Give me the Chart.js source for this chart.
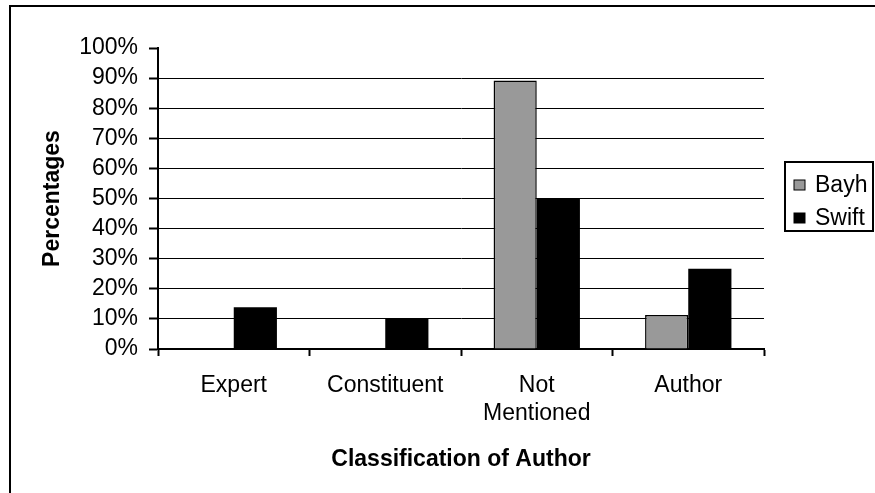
<!DOCTYPE html>
<html>
<head>
<meta charset="utf-8">
<title>Classification of Author</title>
<script src="https://cdn.jsdelivr.net/npm/chart.js@4.4.1/dist/chart.umd.min.js"></script>
<style>
  html, body { margin: 0; padding: 0; background: #fff; }
  canvas { display: block; }
</style>
</head>
<body>
<canvas id="myChart" width="875" height="493"></canvas>
<script>
// Categories and percentages for each senator
const categories = ['Expert', 'Constituent', ['Not', 'Mentioned'], 'Author'];
const bayh = [0, 0, 89.2, 11.3];
const swift = [13.9, 10, 50, 26.7];
const yTicks = [0, 10, 20, 30, 40, 50, 60, 70, 80, 90, 100];

const FONT = "'Liberation Sans', Arial, sans-serif";
const SIZE = 23;

// Frame around the whole chart
const framePlugin = {
    id: 'frame',
    beforeDraw(chart) {
        const c = chart.ctx;
        c.save();
        c.fillStyle = '#fff';
        c.fillRect(0, 0, chart.width, chart.height);
        c.strokeStyle = '#000';
        c.lineWidth = 2;
        c.strokeRect(10, 6, chart.width + 20, chart.height + 20);
        c.restore();
    }
};

// Boxed legend to the right of the plot
const boxLegend = {
    id: 'boxLegend',
    afterDraw(chart) {
        const c = chart.ctx;
        const x = 785, y = 162, w = 88, h = 69;
        c.save();
        c.strokeStyle = '#000';
        c.lineWidth = 2;
        c.strokeRect(x, y, w, h);
        c.font = SIZE + 'px ' + FONT;
        c.textBaseline = 'middle';
        chart.data.datasets.forEach((ds, i) => {
            const cy = 185 + i * 33;
            c.fillStyle = ds.backgroundColor;
            c.fillRect(794, cy - 5, 11, 10);
            c.lineWidth = 1;
            c.strokeRect(794, cy - 5, 11, 10);
            c.fillStyle = '#000';
            c.fillText(ds.label, 815, cy + 1);
        });
        c.restore();
    }
};

const ctx = document.getElementById('myChart').getContext('2d');

const chart = new Chart(ctx, {
    type: 'bar',
    data: {
        labels: categories,
        datasets: [
            {
                label: 'Bayh',
                data: bayh,
                backgroundColor: '#999999',
                borderColor: '#000',
                borderWidth: 1.5,
                borderSkipped: 'bottom'
            },
            {
                label: 'Swift',
                data: swift,
                backgroundColor: '#000000',
                borderColor: '#000',
                borderWidth: 0
            }
        ]
    },
    options: {
        responsive: false,
        animation: false,
        devicePixelRatio: 1,
        layout: { padding: { top: 48, right: 111, bottom: 0, left: 0 } },
        datasets: {
            bar: { categoryPercentage: 0.57, barPercentage: 1 }
        },
        plugins: {
            legend: { display: false },
            tooltip: { enabled: false }
        },
        scales: {
            x: {
                afterFit(scale) { scale.height = 144; },
                grid: {
                    drawOnChartArea: false,
                    drawTicks: true,
                    tickLength: 7,
                    tickColor: '#000',
                    tickWidth: 2
                },
                border: { color: '#000', width: 2 },
                ticks: {
                    color: '#000',
                    padding: 16,
                    maxRotation: 0,
                    autoSkip: false,
                    font: { family: FONT, size: SIZE }
                },
                title: {
                    display: true,
                    text: 'Classification of Author',
                    color: '#000',
                    padding: { top: 0, bottom: 20 },
                    font: { family: FONT, size: SIZE, weight: 'bold' }
                }
            },
            y: {
                min: 0,
                max: 100,
                afterFit(scale) { scale.width = 158; },
                afterBuildTicks(scale) {
                    scale.ticks = yTicks.map(v => ({ value: v }));
                },
                grid: {
                    color: c => (c.tick && c.tick.value > 0 && c.tick.value < 100) ? '#000' : 'rgba(0,0,0,0)',
                    lineWidth: 1,
                    tickLength: 9,
                    tickColor: '#000',
                    tickWidth: 2
                },
                border: { color: '#000', width: 2 },
                ticks: {
                    color: '#000',
                    padding: 11,
                    autoSkip: false,
                    font: { family: FONT, size: SIZE },
                    callback: v => v + '%'
                },
                title: {
                    display: true,
                    text: 'Percentages',
                    color: '#000',
                    padding: { top: 39, bottom: 0 },
                    font: { family: FONT, size: SIZE, weight: 'bold' }
                }
            }
        }
    },
    plugins: [framePlugin, boxLegend]
});
</script>
</body>
</html>
